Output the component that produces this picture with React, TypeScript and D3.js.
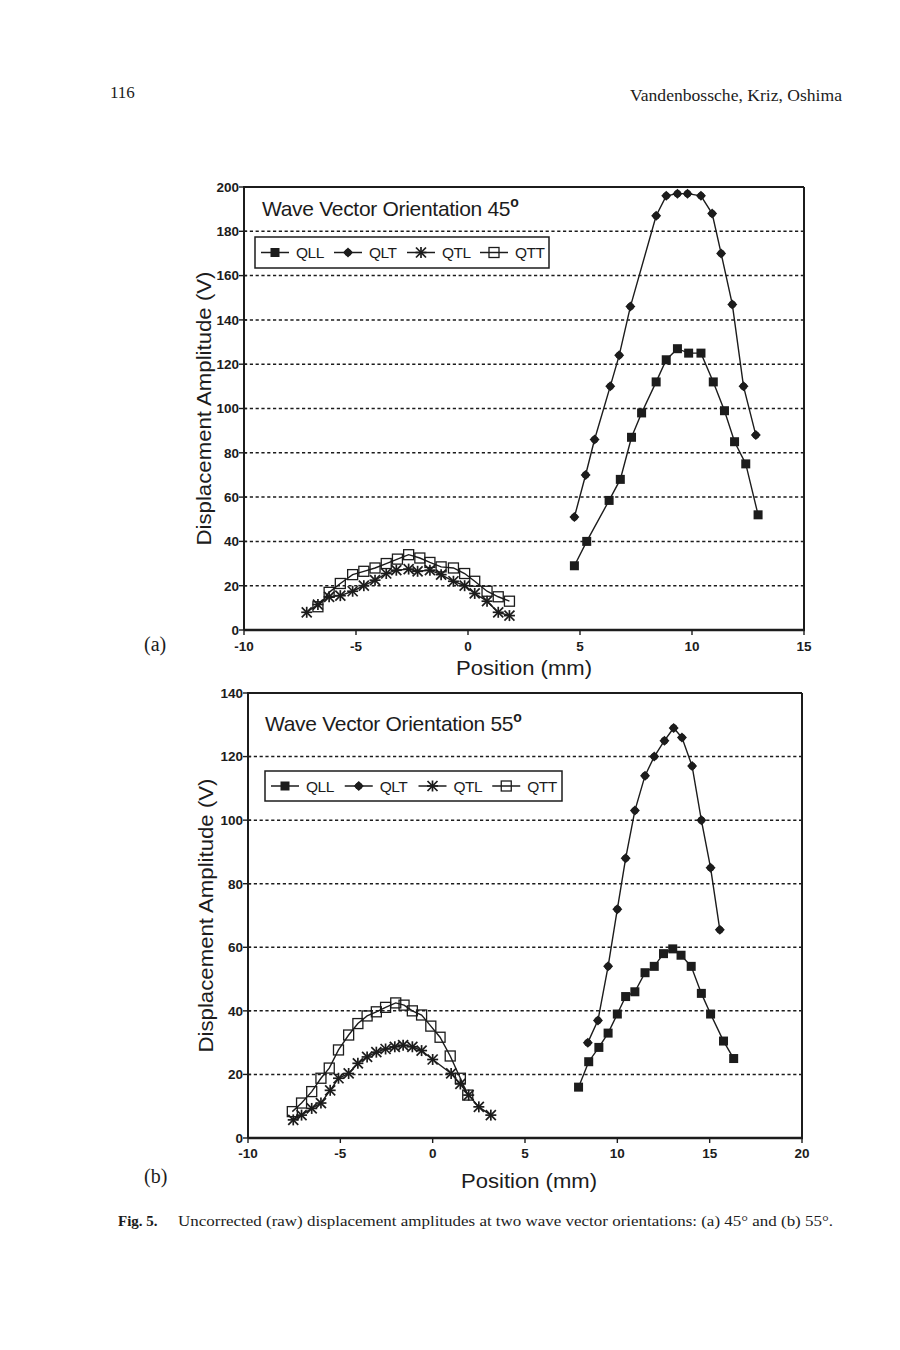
import React from "react";
import * as d3 from "d3";

// ---------- Data: panel (a) 45° ----------
const a45_QLL_x = [4.75, 5.3, 6.3, 6.8, 7.3, 7.75, 8.4, 8.85, 9.35, 9.85, 10.4, 10.95, 11.45, 11.9, 12.4, 12.95];
const a45_QLL_y = [29, 40, 58.5, 68, 87, 98, 112, 122, 127, 125, 125, 112, 99, 85, 75, 52];
const a45_QLT_x = [4.75, 5.25, 5.65, 6.35, 6.75, 7.25, 8.4, 8.85, 9.35, 9.8, 10.4, 10.9, 11.3, 11.8, 12.3, 12.85];
const a45_QLT_y = [51, 70, 86, 110, 124, 146, 187, 196, 197, 197, 196, 188, 170, 147, 110, 88];
const a45_QTL_x = [-7.2, -6.7, -6.2, -5.7, -5.15, -4.65, -4.15, -3.65, -3.2, -2.65, -2.25, -1.7, -1.2, -0.65, -0.15, 0.3, 0.85, 1.35, 1.85];
const a45_QTL_y = [8, 11.5, 15, 15.5, 17.5, 20, 22.5, 25.5, 27, 27.5, 26.5, 27, 25, 22, 20, 16.5, 13, 8, 6.5];
const a45_QTT_x = [-6.7, -6.2, -5.7, -5.15, -4.65, -4.15, -3.65, -3.15, -2.65, -2.15, -1.7, -1.2, -0.65, -0.15, 0.3, 0.85, 1.35, 1.85];
const a45_QTT_y = [10.5, 17, 21, 25, 26.5, 28, 30, 32, 34, 32.5, 30.5, 28.5, 28, 25.5, 22, 17.5, 15, 13];

// ---------- Data: panel (b) 55° ----------
const b55_QLL_x = [7.9, 8.45, 9.0, 9.5, 10.0, 10.45, 10.95, 11.5, 12.0, 12.5, 13.0, 13.45, 14.0, 14.55, 15.05, 15.75, 16.3];
const b55_QLL_y = [16, 24, 28.5, 33, 39, 44.5, 46, 52, 54, 58, 59.5, 57.5, 54, 45.5, 39, 30.5, 25];
const b55_QLT_x = [8.4, 8.95, 9.5, 10.0, 10.45, 10.95, 11.5, 12.0, 12.55, 13.05, 13.5, 14.05, 14.55, 15.05, 15.55];
const b55_QLT_y = [30, 37, 54, 72, 88, 103, 114, 120, 125, 129, 126, 117, 100, 85, 65.5];
const b55_QTL_x = [-7.55, -7.1, -6.55, -6.05, -5.55, -5.1, -4.55, -4.05, -3.55, -3.05, -2.55, -2.05, -1.6, -1.1, -0.6, 0.0, 1.0, 1.5, 1.95, 2.5, 3.15];
const b55_QTL_y = [5.7, 7.2, 9.3, 11, 15, 18.8, 20.3, 23.5, 25.5, 27, 28, 28.7, 29.2, 28.7, 27.5, 24.7, 20.3, 17, 13.5, 9.8, 7.2];
const b55_QTT_x = [-7.6, -7.1, -6.55, -6.05, -5.6, -5.1, -4.55, -4.05, -3.55, -3.05, -2.55, -2.0, -1.55, -1.1, -0.6, -0.1, 0.4, 0.95, 1.5, 1.9];
const b55_QTT_y = [8.3, 11, 14.6, 18.8, 22, 27.7, 32.4, 36, 38.4, 39.7, 41.1, 42.5, 41.8, 40, 38.7, 35.2, 31.7, 25.8, 18.8, 13.5];

// ---------- Ticks / labels ----------
const seriesNames = ["QLL", "QLT", "QTL", "QTT"];
const a_xTicks = [-10, -5, 0, 5, 10, 15];
const a_yTicks = [0, 20, 40, 60, 80, 100, 120, 140, 160, 180, 200];
const b_xTicks = [-10, -5, 0, 5, 10, 15, 20];
const b_yTicks = [0, 20, 40, 60, 80, 100, 120, 140];

const INK = "#1c1c1c";
const SANS = "'Liberation Sans', Arial, Helvetica, sans-serif";
const SERIF = "'Liberation Serif', 'Times New Roman', serif";

type Kind = "QLL" | "QLT" | "QTL" | "QTT";

function Marker({ kind, x, y }: { kind: Kind; x: number; y: number }) {
  if (kind === "QLL") {
    return <rect x={x - 4.5} y={y - 4.5} width={9} height={9} fill={INK} />;
  }
  if (kind === "QLT") {
    const r = 5;
    return (
      <g transform={`translate(${x},${y})`}>
        <path d={`M0,${-r}L${r},0L0,${r}L${-r},0Z`} fill={INK} />
        <circle r={3.6} fill={INK} />
      </g>
    );
  }
  if (kind === "QTL") {
    const r = 5;
    return (
      <g transform={`translate(${x},${y})`} stroke={INK} strokeWidth={1.7}>
        <line x1={-r} y1={-r} x2={r} y2={r} />
        <line x1={-r} y1={r} x2={r} y2={-r} />
        <line x1={0} y1={-r - 0.5} x2={0} y2={r + 0.5} />
        <line x1={-r - 0.5} y1={0} x2={r + 0.5} y2={0} />
      </g>
    );
  }
  return <rect x={x - 5} y={y - 5} width={10} height={10} fill="none" stroke={INK} strokeWidth={1.3} />;
}

interface Series {
  kind: Kind;
  xs: number[];
  ys: number[];
}

interface PanelProps {
  x0: number; x1: number; y0: number; y1: number;
  xDomain: [number, number]; yDomain: [number, number];
  xTicks: number[]; yTicks: number[];
  series: Series[];
  title: string;
  titlePos: [number, number];
  legendBox: [number, number, number, number];
  yTitleX: number;
  xTitlePos: [number, number];
  xLabelDy: number;
}

function Panel(props: PanelProps) {
  const { x0, x1, y0, y1, xDomain, yDomain, xTicks, yTicks, series, title, titlePos, legendBox, yTitleX, xTitlePos, xLabelDy } = props;
  const xs = d3.scaleLinear().domain(xDomain).range([x0, x1]);
  const ys = d3.scaleLinear().domain(yDomain).range([y1, y0]);
  const line = d3.line<[number, number]>().x((d) => xs(d[0])).y((d) => ys(d[1]));
  const [lx, ly, lw, lh] = legendBox;
  const step = lw / 4;
  const legendItems = seriesNames.map((n, i) => ({
    kind: n as Kind,
    lineX: lx + 6 + i * (step - 0.5),
    textX: lx + 6 + i * (step - 0.5) + 35,
  }));
  return (
    <g>
      {/* gridlines */}
      {yTicks.filter((t) => t !== yDomain[0] && t !== yDomain[1]).map((t) => (
        <line key={"g" + t} x1={x0} x2={x1} y1={ys(t)} y2={ys(t)} stroke={INK} strokeWidth={1.5} strokeDasharray="3.2,2.6" />
      ))}
      {/* frame */}
      <line x1={x0} x2={x1} y1={y0} y2={y0} stroke={INK} strokeWidth={2} />
      <line x1={x1} x2={x1} y1={y0} y2={y1} stroke={INK} strokeWidth={2} />
      <line x1={x0} x2={x0} y1={y0 - 1} y2={y1} stroke={INK} strokeWidth={2} />
      <line x1={x0} x2={x1 + 1} y1={y1} y2={y1} stroke={INK} strokeWidth={2.4} />
      {/* y ticks */}
      {yTicks.map((t) => (
        <g key={"yt" + t}>
          <line x1={x0 - 5} x2={x0 + 3} y1={ys(t)} y2={ys(t)} stroke={INK} strokeWidth={1.4} />
          <text x={x0 - 5} y={ys(t) + 4.8} textAnchor="end" fontFamily={SANS} fontSize={13.5} fontWeight="bold" fill={INK}>{t}</text>
        </g>
      ))}
      {/* x ticks */}
      {xTicks.map((t) => (
        <g key={"xt" + t}>
          <line x1={xs(t)} x2={xs(t)} y1={y1} y2={y1 + 5} stroke={INK} strokeWidth={1.4} />
          <text x={xs(t)} y={y1 + xLabelDy} textAnchor="middle" fontFamily={SANS} fontSize={13.5} fontWeight="bold" fill={INK}>{t}</text>
        </g>
      ))}
      {/* series */}
      {series.map((s) => {
        const pts: [number, number][] = s.xs.map((x, i) => [x, s.ys[i]]);
        return (
          <g key={s.kind}>
            <path d={line(pts) || ""} fill="none" stroke={INK} strokeWidth={1.4} />
            {pts.map((p, i) => (
              <Marker key={i} kind={s.kind} x={xs(p[0])} y={ys(p[1])} />
            ))}
          </g>
        );
      })}
      {/* title */}
      <text x={titlePos[0]} y={titlePos[1]} fontFamily={SANS} fontSize={21} fill={INK} letterSpacing={-0.3}>
        {title}
        <tspan fontSize={14} fontWeight="bold" dy={-9}>o</tspan>
      </text>
      {/* legend */}
      <rect x={lx} y={ly} width={lw} height={lh} fill="white" stroke={INK} strokeWidth={1.5} />
      {legendItems.map((it) => (
        <g key={"l" + it.kind}>
          <line x1={it.lineX} x2={it.lineX + 28} y1={ly + lh / 2} y2={ly + lh / 2} stroke={INK} strokeWidth={1.5} />
          <Marker kind={it.kind} x={it.lineX + 14} y={ly + lh / 2} />
          <text x={it.textX} y={ly + lh / 2 + 5.5} fontFamily={SANS} fontSize={15.5} fill={INK} letterSpacing={-0.5}>{it.kind}</text>
        </g>
      ))}
      {/* axis titles */}
      <text transform={`translate(${yTitleX},${(y0 + y1) / 2}) rotate(-90)`} textAnchor="middle" fontFamily={SANS} fontSize={20} fill={INK} textLength={274} lengthAdjust="spacingAndGlyphs">Displacement Amplitude (V)</text>
      <text x={xTitlePos[0]} y={xTitlePos[1]} textAnchor="middle" fontFamily={SANS} fontSize={21} fill={INK} textLength={136} lengthAdjust="spacingAndGlyphs">Position (mm)</text>
    </g>
  );
}

export default function App() {
  const seriesA: Series[] = [
    { kind: "QTT", xs: a45_QTT_x, ys: a45_QTT_y },
    { kind: "QTL", xs: a45_QTL_x, ys: a45_QTL_y },
    { kind: "QLL", xs: a45_QLL_x, ys: a45_QLL_y },
    { kind: "QLT", xs: a45_QLT_x, ys: a45_QLT_y },
  ];
  const seriesB: Series[] = [
    { kind: "QTT", xs: b55_QTT_x, ys: b55_QTT_y },
    { kind: "QTL", xs: b55_QTL_x, ys: b55_QTL_y },
    { kind: "QLL", xs: b55_QLL_x, ys: b55_QLL_y },
    { kind: "QLT", xs: b55_QLT_x, ys: b55_QLT_y },
  ];
  return (
    <svg width={900} height={1350} style={{ position: "absolute", left: 0, top: 0, background: "white" }}>
      <rect x={0} y={0} width={900} height={1350} fill="white" />
      <text x={110} y={98} fontFamily={SERIF} fontSize={17} fill={INK}>116</text>
      <text x={842} y={101} textAnchor="end" fontFamily={SERIF} fontSize={17} fill={INK} textLength={212} lengthAdjust="spacingAndGlyphs">Vandenbossche, Kriz, Oshima</text>

      <Panel
        x0={244} x1={804} y0={187} y1={630}
        xDomain={[-10, 15]} yDomain={[0, 200]}
        xTicks={a_xTicks} yTicks={a_yTicks}
        series={seriesA}
        title="Wave Vector Orientation 45"
        titlePos={[262, 216]}
        legendBox={[255, 237, 294, 31]}
        yTitleX={211}
        xTitlePos={[524, 675]}
        xLabelDy={21}
      />
      <text x={144} y={651} fontFamily={SERIF} fontSize={20} fill={INK}>(a)</text>

      <Panel
        x0={248} x1={802} y0={693} y1={1138}
        xDomain={[-10, 20]} yDomain={[0, 140]}
        xTicks={b_xTicks} yTicks={b_yTicks}
        series={seriesB}
        title="Wave Vector Orientation 55"
        titlePos={[265, 731]}
        legendBox={[265, 771, 297, 30]}
        yTitleX={213}
        xTitlePos={[529, 1188]}
        xLabelDy={20}
      />
      <text x={144} y={1183} fontFamily={SERIF} fontSize={20} fill={INK}>(b)</text>

      <text x={118} y={1226} fontFamily={SERIF} fontSize={15} fontWeight="bold" fill={INK}>Fig. 5.</text>
      <text x={178} y={1226} fontFamily={SERIF} fontSize={15} fill={INK} textLength={655} lengthAdjust="spacingAndGlyphs">Uncorrected (raw) displacement amplitudes at two wave vector orientations: (a) 45° and (b) 55°.</text>
    </svg>
  );
}
